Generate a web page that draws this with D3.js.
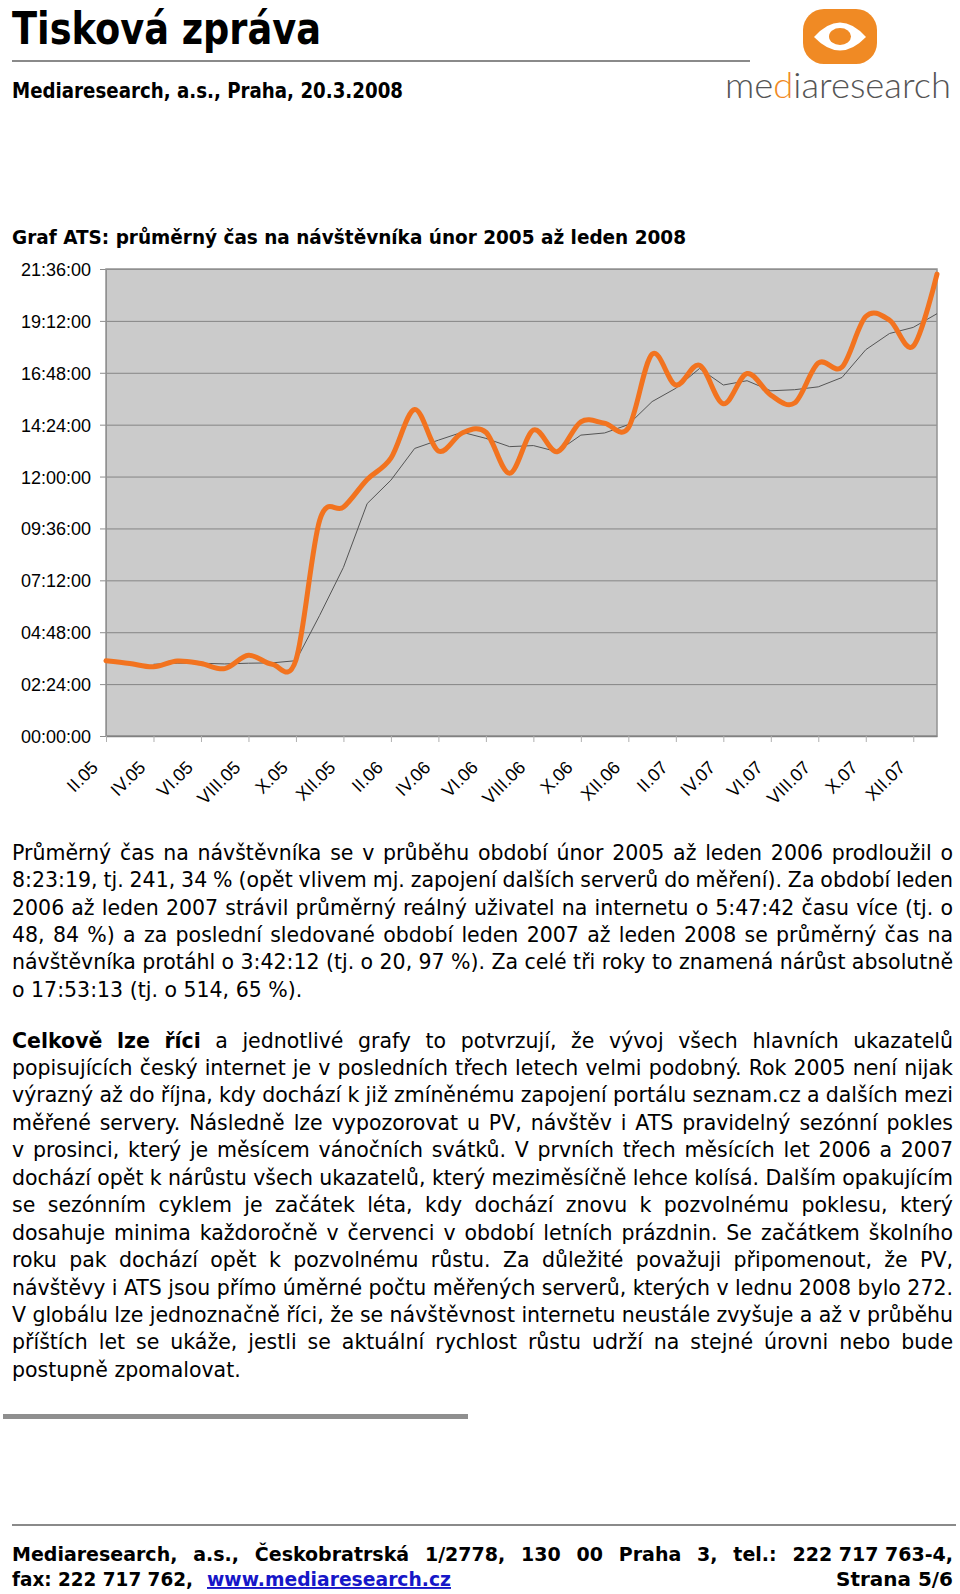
<!DOCTYPE html>
<html>
<head>
<meta charset="utf-8">
<script src="https://cdn.jsdelivr.net/npm/d3@7"></script>
<style>
  html, body { margin: 0; padding: 0; background: #fff; }
  svg { display: block; }
</style>
</head>
<body>
<svg id="page" width="960" height="1594"></svg>
<script>
// months from Feb 2005 to Jan 2008
const months = [
  "II.05", "III.05", "IV.05", "V.05", "VI.05", "VII.05", "VIII.05", "IX.05", "X.05", "XI.05", "XII.05", "I.06",
  "II.06", "III.06", "IV.06", "V.06", "VI.06", "VII.06", "VIII.06", "IX.06", "X.06", "XI.06", "XII.06", "I.07",
  "II.07", "III.07", "IV.07", "V.07", "VI.07", "VII.07", "VIII.07", "IX.07", "X.07", "XI.07", "XII.07", "I.08",
];
const tickLabels = [
  "II.05", "IV.05", "VI.05", "VIII.05", "X.05", "XII.05", "II.06", "IV.06", "VI.06",
  "VIII.06", "X.06", "XII.06", "II.07", "IV.07", "VI.07", "VIII.07", "X.07", "XII.07",
];
// average time per visitor (ATS), h:mm:ss
const ats = [
  "3:28:33", "3:21:00", "3:12:00", "3:28:00", "3:21:00", "3:07:00", "3:44:00", "3:19:00", "3:31:00", "9:59:00", "10:35:00", "11:51:52",
  "12:51:00", "15:06:00", "13:11:00", "14:01:00", "14:03:00", "12:09:00", "14:09:00", "13:09:00", "14:32:00", "14:28:00", "14:15:00", "17:39:34",
  "16:14:00", "17:09:00", "15:22:00", "16:46:00", "15:46:00", "15:24:00", "17:15:00", "17:04:00", "19:24:00", "19:14:00", "18:02:00", "21:21:46",
];
// thin grey trend line (moving average)
const trend = [
  null, null, "3:19:00", "3:22:00", "3:22:00", "3:20:00", "3:22:00", "3:23:00", "3:29:00", "5:35:00", "7:48:00", "10:45:00",
  "11:50:00", "13:18:00", "13:41:00", "14:03:00", "13:46:00", "13:23:00", "13:26:00", "13:09:00", "13:55:00", "14:01:00", "14:24:00", "15:28:00",
  "16:05:00", "17:00:00", "16:14:00", "16:26:00", "15:58:00", "16:01:00", "16:09:00", "16:35:00", "17:52:00", "18:37:00", "18:54:00", "19:32:00",
];
const yTicks = ["00:00:00", "02:24:00", "04:48:00", "07:12:00", "09:36:00", "12:00:00", "14:24:00", "16:48:00", "19:12:00", "21:36:00"];

const para1 = [
  "Průměrný čas na návštěvníka se v průběhu období únor 2005 až leden 2006 prodloužil o",
  "8:23:19, tj. 241, 34 % (opět vlivem mj. zapojení dalších serverů do měření). Za období leden",
  "2006 až leden 2007 strávil průměrný reálný uživatel na internetu o 5:47:42 času více (tj. o",
  "48, 84 %) a za poslední sledované období leden 2007 až leden 2008 se průměrný čas na",
  "návštěvníka protáhl o 3:42:12 (tj. o 20, 97 %). Za celé tři roky to znamená nárůst absolutně",
  "o 17:53:13 (tj. o 514, 65 %).",
];
const para2Lead = "Celkově lze říci";
const para2 = [
  "a jednotlivé grafy to potvrzují, že vývoj všech hlavních ukazatelů",
  "popisujících český internet je v posledních třech letech velmi podobný. Rok 2005 není nijak",
  "výrazný až do října, kdy dochází k již zmíněnému zapojení portálu seznam.cz a dalších mezi",
  "měřené servery. Následně lze vypozorovat u PV, návštěv i ATS pravidelný sezónní pokles",
  "v prosinci, který je měsícem vánočních svátků. V prvních třech měsících let 2006 a 2007",
  "dochází opět k nárůstu všech ukazatelů, který meziměsíčně lehce kolísá. Dalším opakujícím",
  "se sezónním cyklem je začátek léta, kdy dochází znovu k pozvolnému poklesu, který",
  "dosahuje minima každoročně v červenci v období letních prázdnin. Se začátkem školního",
  "roku pak dochází opět k pozvolnému růstu. Za důležité považuji připomenout, že PV,",
  "návštěvy i ATS jsou přímo úměrné počtu měřených serverů, kterých v lednu 2008 bylo 272.",
  "V globálu lze jednoznačně říci, že se návštěvnost internetu neustále zvyšuje a až v průběhu",
  "příštích let se ukáže, jestli se aktuální rychlost růstu udrží na stejné úrovni nebo bude",
  "postupně zpomalovat.",
];

const FONT = "'Liberation Sans', Arial, sans-serif";
const BODY_FONT = "'DejaVu Sans', Verdana, sans-serif";
const ORANGE = "#f2731f";
const LOGO_ORANGE = "#f08a24";
const svg = d3.select("#page");

const toSec = (s) => {
  const p = s.split(":").map(Number);
  return p[0] * 3600 + p[1] * 60 + p[2];
};
const pad = (n) => String(n).padStart(2, "0");
const fmt = (s) => `${pad(Math.floor(s / 3600))}:${pad(Math.floor((s % 3600) / 60))}:${pad(s % 60)}`;

// One line of body text. parts = [{text, bold, keep}] ; "keep" parts are not split into words.
// Justified lines get every word placed so that the line fills the width.
function textLine(x0, yb, width, parts, size, justify) {
  const t = svg.append("text")
    .attr("x", x0)
    .attr("y", yb)
    .attr("font-family", BODY_FONT)
    .attr("font-size", size)
    .attr("fill", "#000");
  if (!justify) {
    parts.forEach((p) => {
      t.append("tspan").attr("font-weight", p.bold ? "bold" : null).text(p.text);
    });
    return t;
  }
  const words = [];
  parts.forEach((p) => {
    if (p.keep) words.push({ text: p.text, bold: p.bold });
    else p.text.split(/\s+/).filter((w) => w).forEach((w) => words.push({ text: w, bold: p.bold }));
  });
  const spans = words.map((w) =>
    t.append("tspan").attr("font-weight", w.bold ? "bold" : null).text(w.text)
  );
  const widths = spans.map((s) => s.node().getComputedTextLength());
  const total = d3.sum(widths);
  const gap = words.length > 1 ? (width - total) / (words.length - 1) : 0;
  let cx = x0;
  spans.forEach((s, i) => {
    s.attr("x", cx);
    cx += widths[i] + gap;
  });
  return t;
}

// ---- header ----
svg.append("text")
  .attr("x", 12).attr("y", 44)
  .attr("font-family", BODY_FONT).attr("font-weight", "bold").attr("font-size", 44)
  .attr("textLength", 309).attr("lengthAdjust", "spacingAndGlyphs")
  .text("Tisková zpráva");

svg.append("line")
  .attr("x1", 12).attr("x2", 750).attr("y1", 61).attr("y2", 61)
  .attr("stroke", "#8a8a8a").attr("stroke-width", 2);

svg.append("text")
  .attr("x", 12).attr("y", 98)
  .attr("font-family", BODY_FONT).attr("font-weight", "bold").attr("font-size", 20.5)
  .attr("textLength", 391).attr("lengthAdjust", "spacingAndGlyphs")
  .text("Mediaresearch, a.s., Praha, 20.3.2008");

// logo
const logo = svg.append("g");
logo.append("rect")
  .attr("x", 803).attr("y", 9).attr("width", 74).attr("height", 55).attr("rx", 21)
  .attr("fill", LOGO_ORANGE);
logo.append("path")
  .attr("d", "M814,37 Q840,8 866,37 Q840,64 814,37 Z")
  .attr("fill", "#fff");
logo.append("ellipse").attr("cx", 840).attr("cy", 36.5).attr("rx", 11).attr("ry", 8.5).attr("fill", LOGO_ORANGE);
const logoText = logo.append("text")
  .attr("x", 725).attr("y", 98)
  .attr("font-family", "Lato, 'Open Sans', sans-serif").attr("font-weight", 300).attr("font-size", 36)
  .attr("fill", "#555")
  .attr("textLength", 226).attr("lengthAdjust", "spacingAndGlyphs");
logoText.append("tspan").text("me");
logoText.append("tspan").attr("fill", LOGO_ORANGE).text("d");
logoText.append("tspan").text("iaresearch");

// ---- chart ----
svg.append("text")
  .attr("x", 12).attr("y", 244)
  .attr("font-family", BODY_FONT).attr("font-weight", "bold").attr("font-size", 19.5)
  .attr("textLength", 674).attr("lengthAdjust", "spacingAndGlyphs")
  .text("Graf ATS: průměrný čas na návštěvníka únor 2005 až leden 2008");

const plot = { left: 106, right: 937, top: 269, bottom: 736 };
const innerWidth = plot.right - plot.left;

const x = d3.scalePoint().domain(months).range([plot.left, plot.right]);
const y = d3.scaleLinear().domain([0, toSec(yTicks[yTicks.length - 1])]).range([plot.bottom, plot.top]);
const yTickVals = yTicks.map(toSec);

svg.append("rect")
  .attr("x", plot.left).attr("y", plot.top)
  .attr("width", innerWidth).attr("height", plot.bottom - plot.top)
  .attr("fill", "#cbcbcb");

// gridlines
const grid = svg.append("g")
  .attr("transform", `translate(${plot.left},0)`)
  .call(d3.axisLeft(y).tickValues(yTickVals).tickSizeInner(-innerWidth).tickSizeOuter(0).tickFormat(""));
grid.select(".domain").remove();
grid.selectAll("line").attr("stroke", "#858585");

// y axis with labels
const yAxis = svg.append("g")
  .attr("transform", `translate(${plot.left},0)`)
  .call(d3.axisLeft(y).tickValues(yTickVals).tickSize(6).tickPadding(9).tickFormat(fmt));
yAxis.select(".domain").attr("stroke", "#8c8c8c");
yAxis.selectAll("line").attr("stroke", "#8c8c8c");
yAxis.selectAll("text")
  .attr("font-family", FONT).attr("font-size", 18).attr("fill", "#000").attr("dy", "0.36em");

// plot frame
svg.append("rect")
  .attr("x", plot.left).attr("y", plot.top)
  .attr("width", innerWidth).attr("height", plot.bottom - plot.top)
  .attr("fill", "none").attr("stroke", "#939393").attr("stroke-width", 1.5);

// x axis
const xAxis = svg.append("g")
  .attr("transform", `translate(0,${plot.bottom})`)
  .call(d3.axisBottom(x).tickValues(tickLabels).tickSize(6).tickSizeOuter(0));
xAxis.select(".domain").attr("stroke", "#808080").attr("stroke-width", 1.5);
xAxis.selectAll("line").attr("stroke", "#b0b0b0");
xAxis.selectAll("text")
  .attr("font-family", FONT).attr("font-size", 18).attr("fill", "#000")
  .attr("x", 0).attr("y", 0).attr("dy", "0.36em")
  .attr("text-anchor", "end")
  .attr("transform", "translate(-12,28) rotate(-45)");

// series
const trendLine = d3.line()
  .defined((d) => d != null)
  .x((d, i) => x(months[i]))
  .y((d) => y(toSec(d)));
svg.append("path")
  .datum(trend)
  .attr("d", trendLine)
  .attr("fill", "none").attr("stroke", "#555").attr("stroke-width", 1);

const atsLine = d3.line()
  .x((d, i) => x(months[i]))
  .y((d) => y(toSec(d)))
  .curve(d3.curveCardinal.tension(0));
svg.append("path")
  .datum(ats)
  .attr("d", atsLine)
  .attr("fill", "none").attr("stroke", ORANGE).attr("stroke-width", 5)
  .attr("stroke-linejoin", "round").attr("stroke-linecap", "round");

// ---- text ----
const textLeft = 12, textWidth = 941, bodySize = 20.5;
para1.forEach((s, i) => {
  textLine(textLeft, 860 + i * 27.3, textWidth, [{ text: s }], bodySize, i < para1.length - 1);
});
para2.forEach((s, i) => {
  const parts = i === 0 ? [{ text: para2Lead, bold: true }, { text: s }] : [{ text: s }];
  textLine(textLeft, 1047.5 + i * 27.45, textWidth, parts, bodySize, i < para2.length - 1);
});

// ---- footer ----
svg.append("rect")
  .attr("x", 3).attr("y", 1414).attr("width", 465).attr("height", 5)
  .attr("fill", "#8f8f8f");
svg.append("line")
  .attr("x1", 12).attr("x2", 956).attr("y1", 1525).attr("y2", 1525)
  .attr("stroke", "#8a8a8a").attr("stroke-width", 2);

textLine(12, 1561, textWidth, [
  { text: "Mediaresearch, a.s., Českobratrská 1/2778, 130 00 Praha 3, tel.:", bold: true },
  { text: "222 717 763-4,", bold: true, keep: true },
], 19, true);
svg.append("text")
  .attr("x", 12).attr("y", 1586)
  .attr("font-family", BODY_FONT).attr("font-weight", "bold").attr("font-size", 19)
  .attr("textLength", 181).attr("lengthAdjust", "spacingAndGlyphs")
  .text("fax: 222 717 762,");
svg.append("text")
  .attr("x", 207).attr("y", 1586)
  .attr("font-family", BODY_FONT).attr("font-weight", "bold").attr("font-size", 19)
  .attr("fill", "#1616c8").attr("text-decoration", "underline")
  .attr("textLength", 244).attr("lengthAdjust", "spacingAndGlyphs")
  .text("www.mediaresearch.cz");
svg.append("text")
  .attr("x", 953).attr("y", 1586)
  .attr("font-family", BODY_FONT).attr("font-weight", "bold").attr("font-size", 19)
  .attr("text-anchor", "end")
  .attr("textLength", 117).attr("lengthAdjust", "spacingAndGlyphs")
  .text("Strana 5/6");
</script>
</body>
</html>
